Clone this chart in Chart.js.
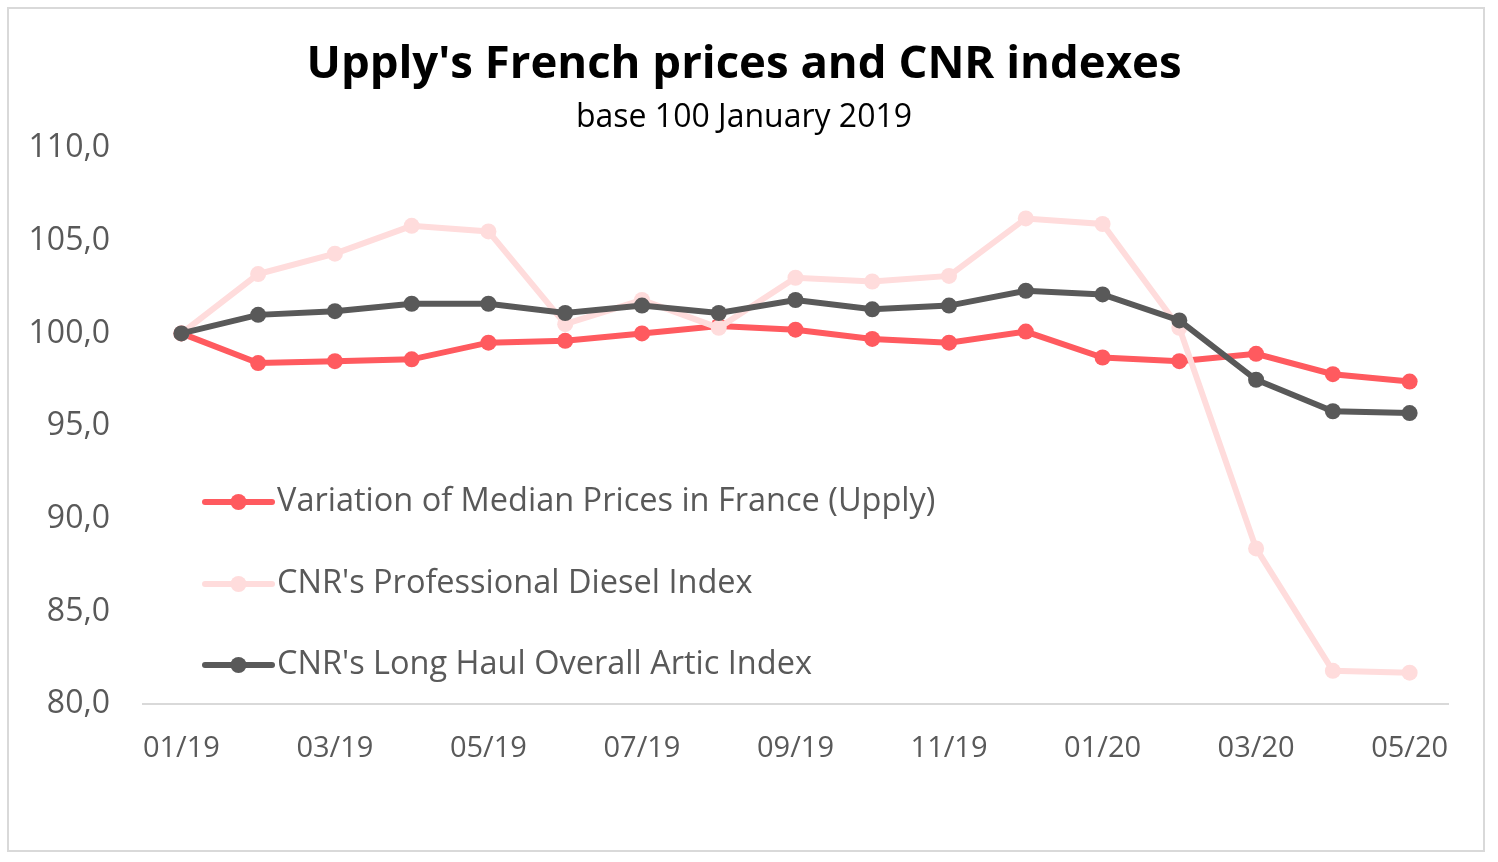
<!DOCTYPE html>
<html>
<head>
<meta charset="utf-8">
<script src="https://cdn.jsdelivr.net/npm/chart.js@4.4.1/dist/chart.umd.min.js"></script>
<style>
  html, body { margin: 0; padding: 0; background: #fff; }
  #chart { display: block; }
</style>
</head>
<body>
<canvas id="chart" width="1498" height="862"></canvas>
<script>
const months = ['01/19', '02/19', '03/19', '04/19', '05/19', '06/19', '07/19', '08/19', '09/19',
  '10/19', '11/19', '12/19', '01/20', '02/20', '03/20', '04/20', '05/20'];

const upplyPrices = [100.0, 98.4, 98.5, 98.6, 99.5, 99.6, 100.0, 100.4, 100.2, 99.7, 99.5, 100.1, 98.7, 98.5, 98.9, 97.8, 97.4];
const dieselIndex = [100.0, 103.2, 104.3, 105.8, 105.5, 100.5, 101.8, 100.3, 103.0, 102.8, 103.1, 106.2, 105.9, 100.3, 88.4, 81.8, 81.7];
const longHaulIndex = [100.0, 101.0, 101.2, 101.6, 101.6, 101.1, 101.5, 101.1, 101.8, 101.3, 101.5, 102.3, 102.1, 100.7, 97.5, 95.8, 95.7];

const seriesNames = [
  'Variation of Median Prices in France (Upply)',
  "CNR's Professional Diesel Index",
  "CNR's Long Haul Overall Artic Index"
];

const yTicks = [80, 85, 90, 95, 100, 105, 110];

const chartTitle = "Upply's French prices and CNR indexes";
const chartSubtitle = 'base 100 January 2019';

const gray = '#595959';
const font = "'Open Sans', sans-serif";

// white page, frame and the two title lines (centred a bit left of the page)
const framePlugin = {
  id: 'frame',
  beforeDraw(chart) {
    const ctx = chart.ctx;
    ctx.save();
    ctx.fillStyle = '#fff';
    ctx.fillRect(0, 0, chart.width, chart.height);
    ctx.strokeStyle = '#d9d9d9';
    ctx.lineWidth = 2;
    ctx.strokeRect(8, 8, 1476, 843);
    ctx.fillStyle = '#000';
    ctx.textAlign = 'center';
    ctx.textBaseline = 'middle';
    ctx.font = 'bold 45.5px ' + font;
    ctx.fillText(chartTitle, 744, 65);
    ctx.font = '32px ' + font;
    ctx.fillText(chartSubtitle, 744, 118);
    ctx.restore();
  }
};

// legend drawn inside the plot, line + marker like Excel
const innerLegend = {
  id: 'innerLegend',
  afterDraw(chart) {
    const ctx = chart.ctx;
    const area = chart.chartArea;
    const rows = [502, 584, 665];
    ctx.save();
    chart.data.datasets.forEach((ds, i) => {
      const y = rows[i];
      const x0 = area.left + 62;
      const x1 = x0 + 67;
      ctx.strokeStyle = ds.borderColor;
      ctx.lineWidth = 6;
      ctx.lineCap = 'round';
      ctx.beginPath();
      ctx.moveTo(x0, y);
      ctx.lineTo(x1, y);
      ctx.stroke();
      ctx.fillStyle = ds.borderColor;
      ctx.beginPath();
      ctx.arc((x0 + x1) / 2, y, 8, 0, Math.PI * 2);
      ctx.fill();
      ctx.fillStyle = gray;
      ctx.font = '32.5px ' + font;
      ctx.textBaseline = 'middle';
      ctx.textAlign = 'left';
      ctx.fillText(ds.label, x1 + 5, y);
    });
    ctx.restore();
  }
};

function lineSet(label, data, color, order) {
  return {
    label: label,
    data: data,
    borderColor: color,
    backgroundColor: color,
    pointBackgroundColor: color,
    pointBorderColor: color,
    borderWidth: 6,
    pointRadius: 8,
    pointBorderWidth: 0,
    tension: 0,
    order: order
  };
}

new Chart(document.getElementById('chart'), {
  type: 'line',
  data: {
    labels: months,
    datasets: [
      lineSet(seriesNames[0], upplyPrices, '#ff5a5f', 3),
      lineSet(seriesNames[1], dieselIndex, '#ffdcdc', 2),
      lineSet(seriesNames[2], longHaulIndex, '#595959', 1)
    ]
  },
  options: {
    responsive: false,
    animation: false,
    devicePixelRatio: 1,
    layout: { padding: { top: 148, right: 50, bottom: 69, left: 0 } },
    plugins: {
      legend: { display: false },
      tooltip: { enabled: false },
      title: { display: false },
      subtitle: { display: false }
    },
    scales: {
      x: {
        offset: true,
        grid: { display: false, drawTicks: false },
        border: { display: true, color: '#d9d9d9', width: 2 },
        ticks: {
          autoSkip: false,
          maxRotation: 0,
          padding: 27,
          color: gray,
          font: { family: font, size: 29 },
          callback: function(value, index) {
            return index % 2 === 0 ? months[index] : '';
          }
        }
      },
      y: {
        min: yTicks[0],
        max: yTicks[yTicks.length - 1],
        afterFit: function(scale) { scale.width = 143; },
        afterBuildTicks: function(scale) { scale.ticks = yTicks.map(v => ({ value: v })); },
        grid: { display: false, drawTicks: false },
        border: { display: false },
        ticks: {
          padding: 33,
          color: gray,
          font: { family: font, size: 32 },
          callback: function(value) { return value.toFixed(1).replace('.', ','); }
        }
      }
    }
  },
  plugins: [framePlugin, innerLegend]
});
</script>
</body>
</html>
